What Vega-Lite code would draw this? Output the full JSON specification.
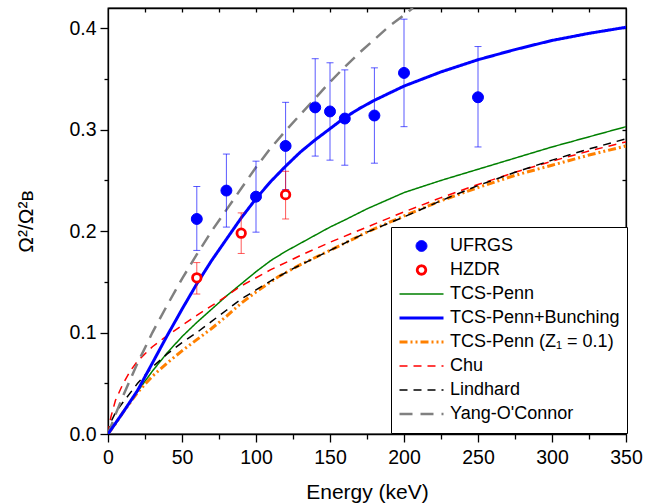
{
  "$schema": "https://vega.github.io/schema/vega-lite/v6.json",
  "width": 518,
  "height": 426,
  "autosize": {"type": "none"},
  "padding": {"left": 108, "top": 8, "right": 28, "bottom": 70},
  "background": "white",
  "config": {
    "font": "Liberation Sans",
    "view": {"stroke": "black", "strokeWidth": 1.3},
    "axis": {"grid": false, "domainColor": "black", "domainWidth": 1.3, "tickColor": "black", "tickWidth": 1.3, "labelColor": "black", "titleColor": "black", "labelFont": "Liberation Sans", "titleFont": "Liberation Sans", "labelFontSize": 19.5, "titleFontSize": 21, "titleFontWeight": "normal", "labelFlush": false, "labelOverlap": false},
    "legend": {"orient": "none", "legendX": 283, "legendY": 219, "strokeColor": "black", "fillColor": "white", "padding": 7, "labelFont": "Liberation Sans", "labelFontSize": 18, "labelColor": "black", "labelOffset": 5, "symbolOffset": 0, "clipHeight": 24, "rowPadding": 0, "labelLimit": 400, "symbolOpacity": 1, "cornerRadius": 0}
  },
  "datasets": {
    "pts": [
      {"series": "UFRGS", "E": 60, "v": 0.212, "lo": 0.181, "hi": 0.244},
      {"series": "UFRGS", "E": 80, "v": 0.240, "lo": 0.204, "hi": 0.276},
      {"series": "UFRGS", "E": 100, "v": 0.234, "lo": 0.199, "hi": 0.269},
      {"series": "UFRGS", "E": 120, "v": 0.284, "lo": 0.241, "hi": 0.327},
      {"series": "UFRGS", "E": 140, "v": 0.322, "lo": 0.274, "hi": 0.370},
      {"series": "UFRGS", "E": 150, "v": 0.318, "lo": 0.270, "hi": 0.366},
      {"series": "UFRGS", "E": 160, "v": 0.311, "lo": 0.265, "hi": 0.359},
      {"series": "UFRGS", "E": 180, "v": 0.314, "lo": 0.267, "hi": 0.361},
      {"series": "UFRGS", "E": 200, "v": 0.356, "lo": 0.303, "hi": 0.409},
      {"series": "UFRGS", "E": 250, "v": 0.332, "lo": 0.283, "hi": 0.382},
      {"series": "HZDR", "E": 60, "v": 0.154, "lo": 0.138, "hi": 0.169},
      {"series": "HZDR", "E": 90, "v": 0.198, "lo": 0.178, "hi": 0.218},
      {"series": "HZDR", "E": 120, "v": 0.236, "lo": 0.212, "hi": 0.259}
    ],
    "curves": [
      {"series": "TCS-Penn", "E": 0, "v": 0},
      {"series": "TCS-Penn", "E": 5, "v": 0.010},
      {"series": "TCS-Penn", "E": 10, "v": 0.021},
      {"series": "TCS-Penn", "E": 20, "v": 0.042},
      {"series": "TCS-Penn", "E": 30, "v": 0.062},
      {"series": "TCS-Penn", "E": 40, "v": 0.080},
      {"series": "TCS-Penn", "E": 50, "v": 0.096},
      {"series": "TCS-Penn", "E": 60, "v": 0.110},
      {"series": "TCS-Penn", "E": 70, "v": 0.123},
      {"series": "TCS-Penn", "E": 80, "v": 0.136},
      {"series": "TCS-Penn", "E": 90, "v": 0.148},
      {"series": "TCS-Penn", "E": 100, "v": 0.160},
      {"series": "TCS-Penn", "E": 110, "v": 0.171},
      {"series": "TCS-Penn", "E": 120, "v": 0.180},
      {"series": "TCS-Penn", "E": 130, "v": 0.188},
      {"series": "TCS-Penn", "E": 140, "v": 0.196},
      {"series": "TCS-Penn", "E": 150, "v": 0.204},
      {"series": "TCS-Penn", "E": 160, "v": 0.211},
      {"series": "TCS-Penn", "E": 175, "v": 0.222},
      {"series": "TCS-Penn", "E": 200, "v": 0.238},
      {"series": "TCS-Penn", "E": 225, "v": 0.250},
      {"series": "TCS-Penn", "E": 250, "v": 0.261},
      {"series": "TCS-Penn", "E": 275, "v": 0.272},
      {"series": "TCS-Penn", "E": 300, "v": 0.283},
      {"series": "TCS-Penn", "E": 325, "v": 0.293},
      {"series": "TCS-Penn", "E": 350, "v": 0.303},
      {"series": "TCS-Penn (Z₁ = 0.1)", "E": 0, "v": 0},
      {"series": "TCS-Penn (Z₁ = 0.1)", "E": 5, "v": 0.010},
      {"series": "TCS-Penn (Z₁ = 0.1)", "E": 10, "v": 0.021},
      {"series": "TCS-Penn (Z₁ = 0.1)", "E": 20, "v": 0.041},
      {"series": "TCS-Penn (Z₁ = 0.1)", "E": 30, "v": 0.057},
      {"series": "TCS-Penn (Z₁ = 0.1)", "E": 40, "v": 0.070},
      {"series": "TCS-Penn (Z₁ = 0.1)", "E": 50, "v": 0.082},
      {"series": "TCS-Penn (Z₁ = 0.1)", "E": 60, "v": 0.093},
      {"series": "TCS-Penn (Z₁ = 0.1)", "E": 70, "v": 0.104},
      {"series": "TCS-Penn (Z₁ = 0.1)", "E": 80, "v": 0.116},
      {"series": "TCS-Penn (Z₁ = 0.1)", "E": 90, "v": 0.129},
      {"series": "TCS-Penn (Z₁ = 0.1)", "E": 100, "v": 0.140},
      {"series": "TCS-Penn (Z₁ = 0.1)", "E": 115, "v": 0.155},
      {"series": "TCS-Penn (Z₁ = 0.1)", "E": 130, "v": 0.167},
      {"series": "TCS-Penn (Z₁ = 0.1)", "E": 150, "v": 0.181},
      {"series": "TCS-Penn (Z₁ = 0.1)", "E": 175, "v": 0.199},
      {"series": "TCS-Penn (Z₁ = 0.1)", "E": 200, "v": 0.215},
      {"series": "TCS-Penn (Z₁ = 0.1)", "E": 225, "v": 0.230},
      {"series": "TCS-Penn (Z₁ = 0.1)", "E": 250, "v": 0.243},
      {"series": "TCS-Penn (Z₁ = 0.1)", "E": 275, "v": 0.255},
      {"series": "TCS-Penn (Z₁ = 0.1)", "E": 300, "v": 0.265},
      {"series": "TCS-Penn (Z₁ = 0.1)", "E": 325, "v": 0.275},
      {"series": "TCS-Penn (Z₁ = 0.1)", "E": 350, "v": 0.284},
      {"series": "Chu", "E": 0, "v": 0},
      {"series": "Chu", "E": 1, "v": 0.010},
      {"series": "Chu", "E": 2, "v": 0.017},
      {"series": "Chu", "E": 5, "v": 0.033},
      {"series": "Chu", "E": 10, "v": 0.049},
      {"series": "Chu", "E": 15, "v": 0.062},
      {"series": "Chu", "E": 20, "v": 0.072},
      {"series": "Chu", "E": 30, "v": 0.086},
      {"series": "Chu", "E": 40, "v": 0.097},
      {"series": "Chu", "E": 50, "v": 0.107},
      {"series": "Chu", "E": 60, "v": 0.117},
      {"series": "Chu", "E": 75, "v": 0.131},
      {"series": "Chu", "E": 90, "v": 0.146},
      {"series": "Chu", "E": 110, "v": 0.162},
      {"series": "Chu", "E": 130, "v": 0.176},
      {"series": "Chu", "E": 150, "v": 0.189},
      {"series": "Chu", "E": 175, "v": 0.204},
      {"series": "Chu", "E": 200, "v": 0.219},
      {"series": "Chu", "E": 225, "v": 0.233},
      {"series": "Chu", "E": 250, "v": 0.246},
      {"series": "Chu", "E": 275, "v": 0.258},
      {"series": "Chu", "E": 300, "v": 0.269},
      {"series": "Chu", "E": 325, "v": 0.279},
      {"series": "Chu", "E": 350, "v": 0.288},
      {"series": "Lindhard", "E": 0, "v": 0},
      {"series": "Lindhard", "E": 2, "v": 0.012},
      {"series": "Lindhard", "E": 5, "v": 0.021},
      {"series": "Lindhard", "E": 10, "v": 0.031},
      {"series": "Lindhard", "E": 20, "v": 0.050},
      {"series": "Lindhard", "E": 30, "v": 0.066},
      {"series": "Lindhard", "E": 40, "v": 0.079},
      {"series": "Lindhard", "E": 50, "v": 0.090},
      {"series": "Lindhard", "E": 60, "v": 0.100},
      {"series": "Lindhard", "E": 70, "v": 0.111},
      {"series": "Lindhard", "E": 80, "v": 0.122},
      {"series": "Lindhard", "E": 90, "v": 0.133},
      {"series": "Lindhard", "E": 100, "v": 0.142},
      {"series": "Lindhard", "E": 110, "v": 0.151},
      {"series": "Lindhard", "E": 125, "v": 0.163},
      {"series": "Lindhard", "E": 150, "v": 0.181},
      {"series": "Lindhard", "E": 175, "v": 0.199},
      {"series": "Lindhard", "E": 200, "v": 0.214},
      {"series": "Lindhard", "E": 225, "v": 0.230},
      {"series": "Lindhard", "E": 250, "v": 0.245},
      {"series": "Lindhard", "E": 275, "v": 0.258},
      {"series": "Lindhard", "E": 300, "v": 0.270},
      {"series": "Lindhard", "E": 325, "v": 0.281},
      {"series": "Lindhard", "E": 350, "v": 0.291},
      {"series": "Yang-O'Connor", "E": 0, "v": 0},
      {"series": "Yang-O'Connor", "E": 5, "v": 0.019},
      {"series": "Yang-O'Connor", "E": 10, "v": 0.037},
      {"series": "Yang-O'Connor", "E": 20, "v": 0.070},
      {"series": "Yang-O'Connor", "E": 30, "v": 0.100},
      {"series": "Yang-O'Connor", "E": 40, "v": 0.127},
      {"series": "Yang-O'Connor", "E": 50, "v": 0.153},
      {"series": "Yang-O'Connor", "E": 60, "v": 0.177},
      {"series": "Yang-O'Connor", "E": 70, "v": 0.200},
      {"series": "Yang-O'Connor", "E": 80, "v": 0.221},
      {"series": "Yang-O'Connor", "E": 90, "v": 0.242},
      {"series": "Yang-O'Connor", "E": 100, "v": 0.263},
      {"series": "Yang-O'Connor", "E": 110, "v": 0.282},
      {"series": "Yang-O'Connor", "E": 120, "v": 0.299},
      {"series": "Yang-O'Connor", "E": 130, "v": 0.315},
      {"series": "Yang-O'Connor", "E": 140, "v": 0.331},
      {"series": "Yang-O'Connor", "E": 150, "v": 0.347},
      {"series": "Yang-O'Connor", "E": 160, "v": 0.362},
      {"series": "Yang-O'Connor", "E": 170, "v": 0.376},
      {"series": "Yang-O'Connor", "E": 180, "v": 0.389},
      {"series": "Yang-O'Connor", "E": 190, "v": 0.402},
      {"series": "Yang-O'Connor", "E": 200, "v": 0.413},
      {"series": "Yang-O'Connor", "E": 206, "v": 0.420},
      {"series": "TCS-Penn+Bunching", "E": 0, "v": 0},
      {"series": "TCS-Penn+Bunching", "E": 10, "v": 0.021},
      {"series": "TCS-Penn+Bunching", "E": 20, "v": 0.043},
      {"series": "TCS-Penn+Bunching", "E": 30, "v": 0.070},
      {"series": "TCS-Penn+Bunching", "E": 40, "v": 0.097},
      {"series": "TCS-Penn+Bunching", "E": 50, "v": 0.123},
      {"series": "TCS-Penn+Bunching", "E": 60, "v": 0.148},
      {"series": "TCS-Penn+Bunching", "E": 70, "v": 0.171},
      {"series": "TCS-Penn+Bunching", "E": 80, "v": 0.192},
      {"series": "TCS-Penn+Bunching", "E": 90, "v": 0.213},
      {"series": "TCS-Penn+Bunching", "E": 100, "v": 0.232},
      {"series": "TCS-Penn+Bunching", "E": 110, "v": 0.249},
      {"series": "TCS-Penn+Bunching", "E": 120, "v": 0.264},
      {"series": "TCS-Penn+Bunching", "E": 130, "v": 0.278},
      {"series": "TCS-Penn+Bunching", "E": 140, "v": 0.290},
      {"series": "TCS-Penn+Bunching", "E": 150, "v": 0.301},
      {"series": "TCS-Penn+Bunching", "E": 160, "v": 0.312},
      {"series": "TCS-Penn+Bunching", "E": 170, "v": 0.321},
      {"series": "TCS-Penn+Bunching", "E": 180, "v": 0.329},
      {"series": "TCS-Penn+Bunching", "E": 190, "v": 0.336},
      {"series": "TCS-Penn+Bunching", "E": 200, "v": 0.343},
      {"series": "TCS-Penn+Bunching", "E": 225, "v": 0.357},
      {"series": "TCS-Penn+Bunching", "E": 250, "v": 0.369},
      {"series": "TCS-Penn+Bunching", "E": 275, "v": 0.379},
      {"series": "TCS-Penn+Bunching", "E": 300, "v": 0.388},
      {"series": "TCS-Penn+Bunching", "E": 325, "v": 0.395},
      {"series": "TCS-Penn+Bunching", "E": 350, "v": 0.401}
    ]
  },
  "resolve": {"axis": {"x": "independent", "y": "independent"}},
  "layer": [
    {
      "data": {"name": "curves"},
      "mark": {"type": "line", "strokeCap": "butt", "clip": true},
      "encoding": {
        "x": {"field": "E", "type": "quantitative", "scale": {"domain": [0, 350], "nice": false, "zero": false},
          "axis": {"orient": "bottom", "title": "Energy (keV)", "values": [0, 25, 50, 75, 100, 125, 150, 175, 200, 225, 250, 275, 300, 325, 350],
            "labelExpr": "datum.value % 50 === 0 ? datum.label : ''",
            "tickSize": {"condition": {"test": "datum.value % 50 === 0", "value": 8}, "value": 5},
            "labelPadding": 6, "titlePadding": 15}},
        "y": {"field": "v", "type": "quantitative", "scale": {"domain": [0, 0.42], "nice": false, "zero": false},
          "axis": {"orient": "left", "title": "Ω²/Ω²ʙ", "values": [0, 0.05, 0.1, 0.15, 0.2, 0.25, 0.3, 0.35, 0.4],
            "labelExpr": "abs(datum.value*10 - round(datum.value*10)) < 0.001 ? format(datum.value, '.1f') : ''",
            "tickSize": {"condition": {"test": "abs(datum.value*10 - round(datum.value*10)) < 0.001", "value": 8}, "value": 4},
            "labelPadding": 4, "titlePadding": 32}},
        "stroke": {"field": "series", "type": "nominal", "legend": {"title": null},
          "scale": {"domain": ["UFRGS", "HZDR", "TCS-Penn", "TCS-Penn+Bunching", "TCS-Penn (Z₁ = 0.1)", "Chu", "Lindhard", "Yang-O'Connor"],
            "range": ["#0000ff", "#ff0000", "#008000", "#0000ff", "#ff8000", "#ff0000", "#000000", "#808080"]}},
        "strokeDash": {"field": "series", "type": "nominal", "legend": {"title": null},
          "scale": {"domain": ["UFRGS", "HZDR", "TCS-Penn", "TCS-Penn+Bunching", "TCS-Penn (Z₁ = 0.1)", "Chu", "Lindhard", "Yang-O'Connor"],
            "range": [[1, 0], [1, 0], [1, 0], [1, 0], [8, 3, 2, 3, 2, 3], [8, 6], [8, 6], [13, 8]]}},
        "strokeWidth": {"field": "series", "type": "ordinal", "legend": {"title": null},
          "scale": {"type": "ordinal", "domain": ["UFRGS", "HZDR", "TCS-Penn", "TCS-Penn+Bunching", "TCS-Penn (Z₁ = 0.1)", "Chu", "Lindhard", "Yang-O'Connor"],
            "range": [1, 2.8, 1.5, 3, 3, 1.5, 1.5, 2.5]}}
      }
    },
    {
      "data": {"name": "pts"},
      "mark": {"type": "rule", "opacity": 0.65},
      "encoding": {
        "x": {"field": "E", "type": "quantitative", "axis": null},
        "y": {"field": "lo", "type": "quantitative", "axis": null},
        "y2": {"field": "hi"},
        "color": {"field": "series", "type": "nominal", "legend": null, "scale": {"domain": ["UFRGS", "HZDR"], "range": ["#0000ff", "#ff0000"]}}
      }
    },
    {
      "data": {"name": "pts"},
      "mark": {"type": "tick", "orient": "horizontal", "size": 7, "thickness": 1, "opacity": 0.65},
      "encoding": {
        "x": {"field": "E", "type": "quantitative", "axis": null},
        "y": {"field": "lo", "type": "quantitative", "axis": null},
        "color": {"field": "series", "type": "nominal", "legend": null, "scale": {"domain": ["UFRGS", "HZDR"], "range": ["#0000ff", "#ff0000"]}}
      }
    },
    {
      "data": {"name": "pts"},
      "mark": {"type": "tick", "orient": "horizontal", "size": 7, "thickness": 1, "opacity": 0.65},
      "encoding": {
        "x": {"field": "E", "type": "quantitative", "axis": null},
        "y": {"field": "hi", "type": "quantitative", "axis": null},
        "color": {"field": "series", "type": "nominal", "legend": null, "scale": {"domain": ["UFRGS", "HZDR"], "range": ["#0000ff", "#ff0000"]}}
      }
    },
    {
      "data": {"name": "pts"},
      "mark": {"type": "point", "opacity": 1},
      "encoding": {
        "x": {"field": "E", "type": "quantitative",
          "axis": {"orient": "top", "title": null, "labels": false, "values": [25, 50, 75, 100, 125, 150, 175, 200, 225, 250, 275, 300, 325], "tickSize": -4}},
        "y": {"field": "v", "type": "quantitative",
          "axis": {"orient": "right", "title": null, "labels": false, "values": [0.05, 0.1, 0.15, 0.2, 0.25, 0.3, 0.35, 0.4], "tickSize": -4}},
        "stroke": {"field": "series", "type": "nominal", "legend": {"title": null},
          "scale": {"domain": ["UFRGS", "HZDR", "TCS-Penn", "TCS-Penn+Bunching", "TCS-Penn (Z₁ = 0.1)", "Chu", "Lindhard", "Yang-O'Connor"],
            "range": ["#0000ff", "#ff0000", "#008000", "#0000ff", "#ff8000", "#ff0000", "#000000", "#808080"]}},
        "fill": {"field": "series", "type": "nominal", "legend": {"title": null},
          "scale": {"domain": ["UFRGS", "HZDR", "TCS-Penn", "TCS-Penn+Bunching", "TCS-Penn (Z₁ = 0.1)", "Chu", "Lindhard", "Yang-O'Connor"],
            "range": ["#0000ff", "#ffffff", "transparent", "transparent", "transparent", "transparent", "transparent", "transparent"]}},
        "shape": {"field": "series", "type": "nominal", "legend": {"title": null},
          "scale": {"domain": ["UFRGS", "HZDR", "TCS-Penn", "TCS-Penn+Bunching", "TCS-Penn (Z₁ = 0.1)", "Chu", "Lindhard", "Yang-O'Connor"],
            "range": ["circle", "circle", "stroke", "stroke", "stroke", "stroke", "stroke", "stroke"]}},
        "size": {"field": "series", "type": "ordinal", "legend": {"title": null},
          "scale": {"type": "ordinal", "domain": ["UFRGS", "HZDR", "TCS-Penn", "TCS-Penn+Bunching", "TCS-Penn (Z₁ = 0.1)", "Chu", "Lindhard", "Yang-O'Connor"],
            "range": [120, 72, 1936, 1936, 1936, 1936, 1936, 1936]}},
        "strokeWidth": {"field": "series", "type": "ordinal", "legend": {"title": null},
          "scale": {"type": "ordinal", "domain": ["UFRGS", "HZDR", "TCS-Penn", "TCS-Penn+Bunching", "TCS-Penn (Z₁ = 0.1)", "Chu", "Lindhard", "Yang-O'Connor"],
            "range": [1, 2.8, 1.5, 3, 3, 1.5, 1.5, 2.5]}}
      }
    }
  ]
}
